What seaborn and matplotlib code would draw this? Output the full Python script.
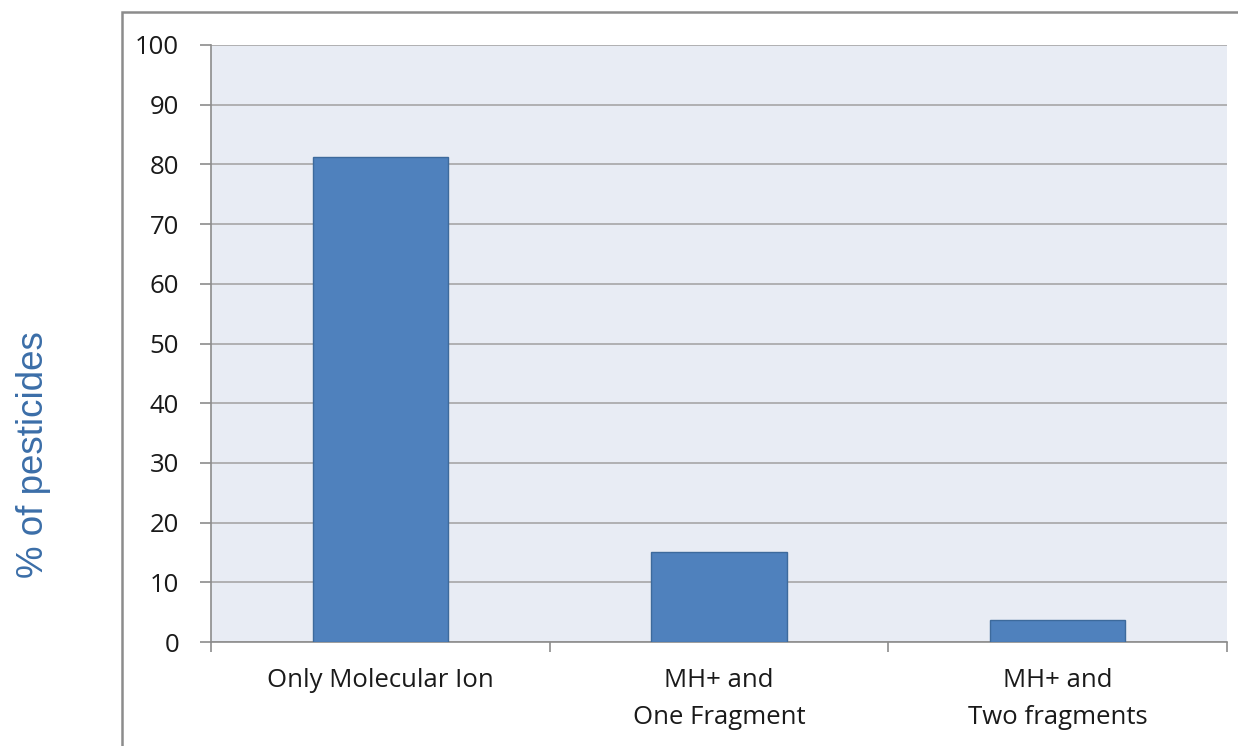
import matplotlib
matplotlib.use("Agg")
import matplotlib.pyplot as plt
from matplotlib.patches import Rectangle
import seaborn as sns
import pandas as pd

categories = ["Only Molecular Ion", "MH+ and\nOne Fragment", "MH+ and\nTwo fragments"]
percent = [81.2, 15.1, 3.7]
yticks = [0, 10, 20, 30, 40, 50, 60, 70, 80, 90, 100]

df = pd.DataFrame({"category": categories, "percent": percent})

sns.set_style("white")
plt.rcParams["font.family"] = ["Open Sans", "DejaVu Sans"]

W, H = 1238, 746
fig = plt.figure(figsize=(W / 100, H / 100), dpi=100)
ax = fig.add_axes([211 / W, 1 - 642 / H, (1227 - 211) / W, (642 - 45) / H])

# chart frame (extends past the right and bottom edges)
fig.patches.append(Rectangle((122 / W, -0.05), 1.2, 1 - 12 / H + 0.05,
                             transform=fig.transFigure, fill=False,
                             edgecolor="#8c8c8c", linewidth=1.8, zorder=0))

ax.set_facecolor("#e8ecf4")
sns.barplot(data=df, x="category", y="percent", ax=ax, color="#4f81bd",
            saturation=1, width=0.40, edgecolor="#3d6a9c", linewidth=1.0,
            zorder=3)

ax.set_ylim(0, 100)
ax.set_xlim(-0.5, 2.5)
ax.set_yticks(yticks)
ax.set_yticklabels([str(t) for t in yticks], fontsize=18.5, color="#1a1a1a")
ax.yaxis.grid(True, color="#a6a6a6", linewidth=1.2, zorder=1)
ax.set_axisbelow(True)

# category labels at centers, tick marks at category boundaries
ax.set_xticks([0, 1, 2])
ax.set_xticklabels(categories, fontsize=18.5, color="#1a1a1a", linespacing=1.6)
ax.tick_params(axis="x", length=0, pad=19)
ax.set_xticks([-0.5, 0.5, 1.5, 2.5], minor=True)
ax.tick_params(axis="x", which="minor", length=7, width=1.2, color="#8c8c8c",
               direction="out", bottom=True)
ax.tick_params(axis="y", length=8, width=1.2, color="#8c8c8c", direction="out",
               left=True, pad=15)

for side in ["top", "right"]:
    ax.spines[side].set_visible(False)
for side in ["left", "bottom"]:
    ax.spines[side].set_color("#8c8c8c")
    ax.spines[side].set_linewidth(1.2)

ax.set_xlabel("")
ax.set_ylabel("")
fig.text(34 / W, 1 - 455 / H, "% of pesticides", rotation=90, va="center",
         ha="center", fontsize=26.5, color="#3b6ea8", family="Liberation Sans")

fig.savefig("out.png", dpi=100)
